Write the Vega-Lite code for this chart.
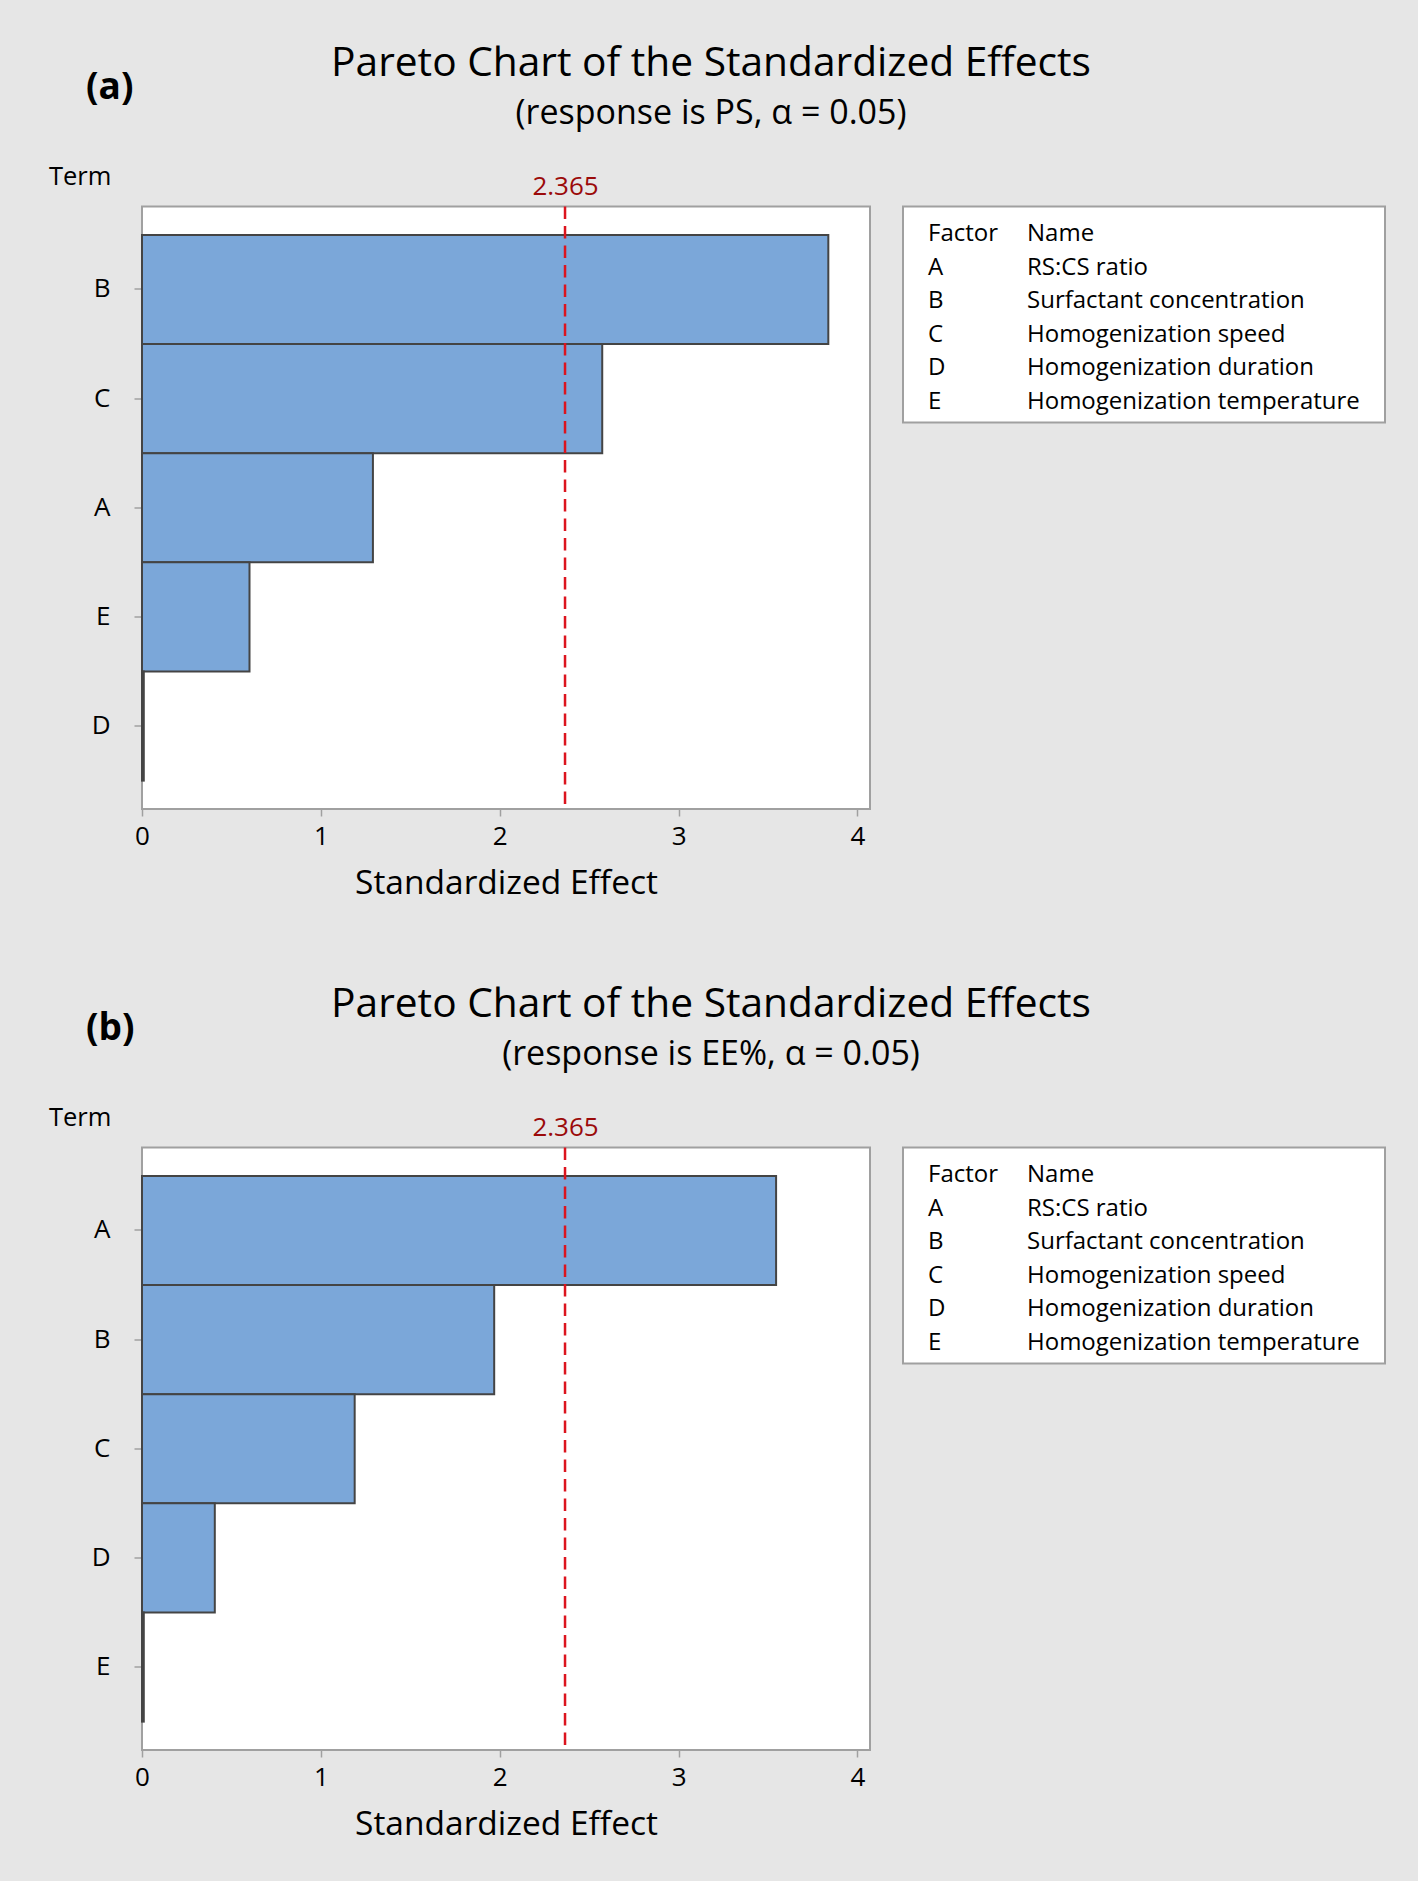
{
  "$schema": "https://vega.github.io/schema/vega-lite/v6.json",
  "background": "#e6e6e6",
  "padding": {"left": 47, "top": 41.5, "right": 35, "bottom": 38.5},
  "config": {
    "font": "Open Sans",
    "view": {"fill": "white", "stroke": "#a0a0a0", "strokeWidth": 2},
    "axis": {"labelColor": "#000000", "titleColor": "#000000", "labelFont": "Open Sans", "titleFont": "Open Sans", "grid": false, "domain": false, "tickColor": "#a0a0a0", "tickWidth": 1.5, "labelFlush": false}
  },
  "datasets": {
    "ps": [
      {"term": "B", "effect": 3.837},
      {"term": "C", "effect": 2.573},
      {"term": "A", "effect": 1.291},
      {"term": "E", "effect": 0.601},
      {"term": "D", "effect": 0.01}
    ],
    "ee": [
      {"term": "A", "effect": 3.545},
      {"term": "B", "effect": 1.969},
      {"term": "C", "effect": 1.189},
      {"term": "D", "effect": 0.407},
      {"term": "E", "effect": 0.01}
    ],
    "crit": [{"crit": 2.365}],
    "factors": [
      {"row": 0, "Factor": "Factor", "Name": "Name"},
      {"row": 1, "Factor": "A", "Name": "RS:CS ratio"},
      {"row": 2, "Factor": "B", "Name": "Surfactant concentration"},
      {"row": 3, "Factor": "C", "Name": "Homogenization speed"},
      {"row": 4, "Factor": "D", "Name": "Homogenization duration"},
      {"row": 5, "Factor": "E", "Name": "Homogenization temperature"}
    ]
  },
  "columns": 2,
  "bounds": "flush",
  "spacing": {"row": 338, "column": 33},
  "concat": [
    {
      "width": 728,
      "height": 602.5,
      "title": {"text": "Pareto Chart of the Standardized Effects", "subtitle": "(response is PS, α = 0.05)", "anchor": "middle", "frame": "group", "dx": 205, "fontSize": 40.7, "fontWeight": "normal", "subtitleFontSize": 34, "subtitleFont": "Open Sans", "color": "#000000", "subtitleColor": "#000000", "offset": 33, "subtitlePadding": 12},
      "layer": [
        {
          "data": {"name": "ps"},
          "mark": {"type": "bar", "fill": "#7ba7d9", "stroke": "#444444", "strokeWidth": 2},
          "encoding": {
            "y": {"field": "term", "type": "nominal", "sort": {"field": "effect", "order": "descending"}, "scale": {"paddingInner": 0, "paddingOuter": 0.26}, "axis": {"title": "Term", "titleAngle": 0, "titleAlign": "left", "titleBaseline": "middle", "titleX": -93.5, "titleY": -30, "titleFontSize": 25.5, "titleFontWeight": "normal", "labelFontSize": 26, "labelPadding": 24, "tickSize": 8}},
            "x": {"field": "effect", "type": "quantitative", "scale": {"domain": [0, 4.07], "nice": false}, "axis": {"values": [0, 1, 2, 3, 4], "tickSize": 7, "labelFontSize": 26, "labelPadding": 7, "title": "Standardized Effect", "titleFontSize": 33.5, "titleFontWeight": "normal", "titlePadding": 18.5}}
          }
        },
        {
          "data": {"name": "crit"},
          "mark": {"type": "rule", "color": "#dc141e", "strokeDash": [12.5, 7], "strokeWidth": 2.5},
          "encoding": {
            "x": {"field": "crit", "type": "quantitative", "scale": {"domain": [0, 4.07], "nice": false}, "axis": {"orient": "top", "values": [2.365], "format": ".3f", "ticks": false, "domain": false, "title": null, "labelColor": "#9b0a0a", "labelFontSize": 26, "labelPadding": 7}}
          }
        }
      ],
      "resolve": {"axis": {"x": "independent"}}
    },
    {
      "width": 482,
      "height": 216,
      "title": {"text": "(a)", "anchor": "start", "frame": "group", "dx": -817, "fontSize": 37, "fontWeight": "bold", "color": "#000000", "offset": 100},
      "data": {"name": "factors"},
      "transform": [{"fold": ["Factor", "Name"], "as": ["col", "txt"]}],
      "mark": {"type": "text", "align": "left", "baseline": "middle", "fontSize": 24, "dy": 3.5, "color": "#000000"},
      "encoding": {
        "x": {"field": "col", "type": "nominal", "scale": {"type": "point", "padding": 0, "domain": ["Factor", "Name"], "range": [25, 124]}, "axis": null},
        "y": {"field": "row", "type": "ordinal", "scale": {"type": "point", "padding": 0.73}, "axis": null},
        "text": {"field": "txt", "type": "nominal"}
      }
    },
    {
      "width": 728,
      "height": 602.5,
      "title": {"text": "Pareto Chart of the Standardized Effects", "subtitle": "(response is EE%, α = 0.05)", "anchor": "middle", "frame": "group", "dx": 205, "fontSize": 40.7, "fontWeight": "normal", "subtitleFontSize": 34, "subtitleFont": "Open Sans", "color": "#000000", "subtitleColor": "#000000", "offset": 33, "subtitlePadding": 12},
      "layer": [
        {
          "data": {"name": "ee"},
          "mark": {"type": "bar", "fill": "#7ba7d9", "stroke": "#444444", "strokeWidth": 2},
          "encoding": {
            "y": {"field": "term", "type": "nominal", "sort": {"field": "effect", "order": "descending"}, "scale": {"paddingInner": 0, "paddingOuter": 0.26}, "axis": {"title": "Term", "titleAngle": 0, "titleAlign": "left", "titleBaseline": "middle", "titleX": -93.5, "titleY": -30, "titleFontSize": 25.5, "titleFontWeight": "normal", "labelFontSize": 26, "labelPadding": 24, "tickSize": 8}},
            "x": {"field": "effect", "type": "quantitative", "scale": {"domain": [0, 4.07], "nice": false}, "axis": {"values": [0, 1, 2, 3, 4], "tickSize": 7, "labelFontSize": 26, "labelPadding": 7, "title": "Standardized Effect", "titleFontSize": 33.5, "titleFontWeight": "normal", "titlePadding": 18.5}}
          }
        },
        {
          "data": {"name": "crit"},
          "mark": {"type": "rule", "color": "#dc141e", "strokeDash": [12.5, 7], "strokeWidth": 2.5},
          "encoding": {
            "x": {"field": "crit", "type": "quantitative", "scale": {"domain": [0, 4.07], "nice": false}, "axis": {"orient": "top", "values": [2.365], "format": ".3f", "ticks": false, "domain": false, "title": null, "labelColor": "#9b0a0a", "labelFontSize": 26, "labelPadding": 7}}
          }
        }
      ],
      "resolve": {"axis": {"x": "independent"}}
    },
    {
      "width": 482,
      "height": 216,
      "title": {"text": "(b)", "anchor": "start", "frame": "group", "dx": -817, "fontSize": 37, "fontWeight": "bold", "color": "#000000", "offset": 100},
      "data": {"name": "factors"},
      "transform": [{"fold": ["Factor", "Name"], "as": ["col", "txt"]}],
      "mark": {"type": "text", "align": "left", "baseline": "middle", "fontSize": 24, "dy": 3.5, "color": "#000000"},
      "encoding": {
        "x": {"field": "col", "type": "nominal", "scale": {"type": "point", "padding": 0, "domain": ["Factor", "Name"], "range": [25, 124]}, "axis": null},
        "y": {"field": "row", "type": "ordinal", "scale": {"type": "point", "padding": 0.73}, "axis": null},
        "text": {"field": "txt", "type": "nominal"}
      }
    }
  ]
}
